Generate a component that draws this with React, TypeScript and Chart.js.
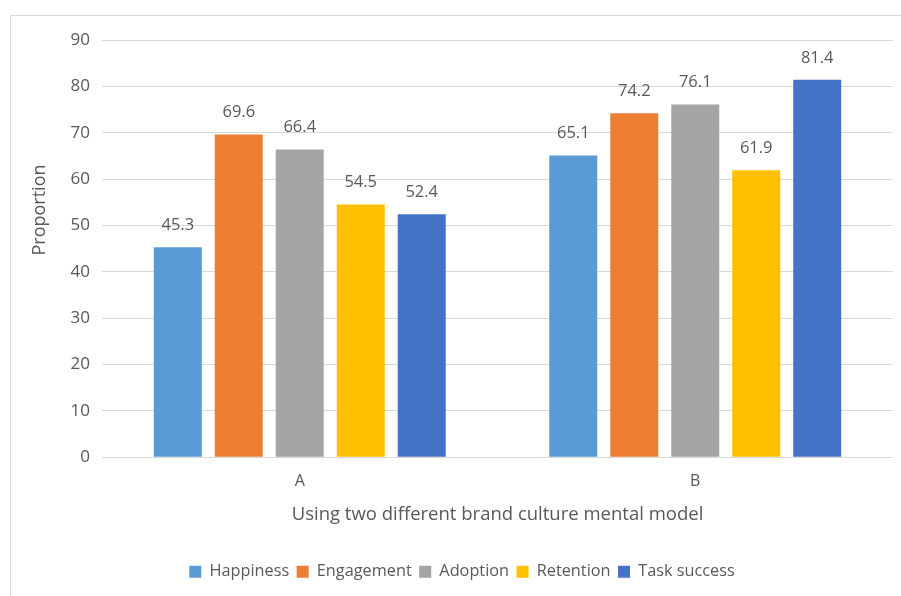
import React, { useEffect, useRef } from "react";
import { Chart, registerables } from "chart.js";

Chart.register(...registerables);

const categories = ["A", "B"];
const seriesNames = ["Happiness", "Engagement", "Adoption", "Retention", "Task success"];
const happiness = [45.3, 65.1];
const engagement = [69.6, 74.2];
const adoption = [66.4, 76.1];
const retention = [54.5, 61.9];
const taskSuccess = [52.4, 81.4];
const seriesColors = ["#5B9BD5", "#ED7D31", "#A5A5A5", "#FFC000", "#4472C4"];
const yTicks = [0, 10, 20, 30, 40, 50, 60, 70, 80, 90];
const yTitle = "Proportion";
const xTitle = "Using two different brand culture mental model";

const FONT = "'Open Sans', 'Noto Sans', sans-serif";
const TEXT = "#595959";

// Frame, vertical axis title and value labels above each bar
const decorPlugin = {
  id: "decor",
  beforeDraw(chart: any) {
    const { ctx } = chart;
    ctx.save();
    ctx.strokeStyle = "#D9D9D9";
    ctx.lineWidth = 1;
    ctx.strokeRect(10.5, 15.5, 1200, 1200);
    ctx.translate(40, 210);
    ctx.rotate(-Math.PI / 2);
    ctx.font = `18px ${FONT}`;
    ctx.fillStyle = TEXT;
    ctx.textAlign = "center";
    ctx.textBaseline = "middle";
    ctx.fillText(yTitle, 0, 0);
    ctx.restore();
  },
  afterDatasetsDraw(chart: any) {
    const { ctx } = chart;
    ctx.save();
    ctx.font = `16.5px ${FONT}`;
    ctx.fillStyle = TEXT;
    ctx.textAlign = "center";
    ctx.textBaseline = "middle";
    chart.data.datasets.forEach((ds: any, di: number) => {
      const meta = chart.getDatasetMeta(di);
      meta.data.forEach((el: any, i: number) => {
        ctx.fillText(ds.data[i].toFixed(1), el.x, el.y - 22);
      });
    });
    ctx.restore();
  },
};

export default function App() {
  const ref = useRef<HTMLCanvasElement>(null);

  useEffect(() => {
    if (!ref.current) return;
    const values = [happiness, engagement, adoption, retention, taskSuccess];
    const chart = new Chart(ref.current, {
      type: "bar",
      data: {
        labels: categories,
        datasets: seriesNames.map((name, i) => ({
          label: name,
          data: values[i],
          backgroundColor: seriesColors[i],
          borderWidth: 0,
          categoryPercentage: 0.771,
          barPercentage: 0.787,
        })),
      },
      options: {
        responsive: false,
        animation: false,
        layout: { padding: { left: 31, right: 8, top: 40, bottom: 6 } },
        plugins: {
          tooltip: { enabled: false },
          legend: {
            position: "bottom",
            labels: {
              boxWidth: 12,
              boxHeight: 12,
              padding: 7.5,
              color: TEXT,
              font: { family: FONT, size: 16.3 },
            },
          },
        },
        scales: {
          x: {
            grid: { display: false, drawTicks: false },
            border: { display: false },
            ticks: { color: TEXT, font: { family: FONT, size: 16 }, padding: 14.4 },
            title: {
              display: true,
              text: xTitle,
              color: TEXT,
              font: { family: FONT, size: 18.5 },
              padding: { top: 4, bottom: 30 },
            },
            afterFit(scale: any) {
              scale.height = 99;
            },
          },
          y: {
            min: 0,
            max: 90,
            afterBuildTicks(scale: any) {
              scale.ticks = yTicks.map((v) => ({ value: v }));
            },
            grid: { color: "#D9D9D9", lineWidth: 1, drawTicks: false },
            border: { display: false },
            ticks: { color: TEXT, font: { family: FONT, size: 17 }, padding: 12 },
            title: { display: false },
            afterFit(scale: any) {
              scale.width = 71;
            },
          },
        },
      },
      plugins: [decorPlugin],
    });
    return () => chart.destroy();
  }, []);

  return (
    <div style={{ position: "absolute", left: 0, top: 0, width: 901, height: 596, background: "#fff" }}>
      <canvas ref={ref} width={901} height={596} style={{ display: "block" }} />
    </div>
  );
}
